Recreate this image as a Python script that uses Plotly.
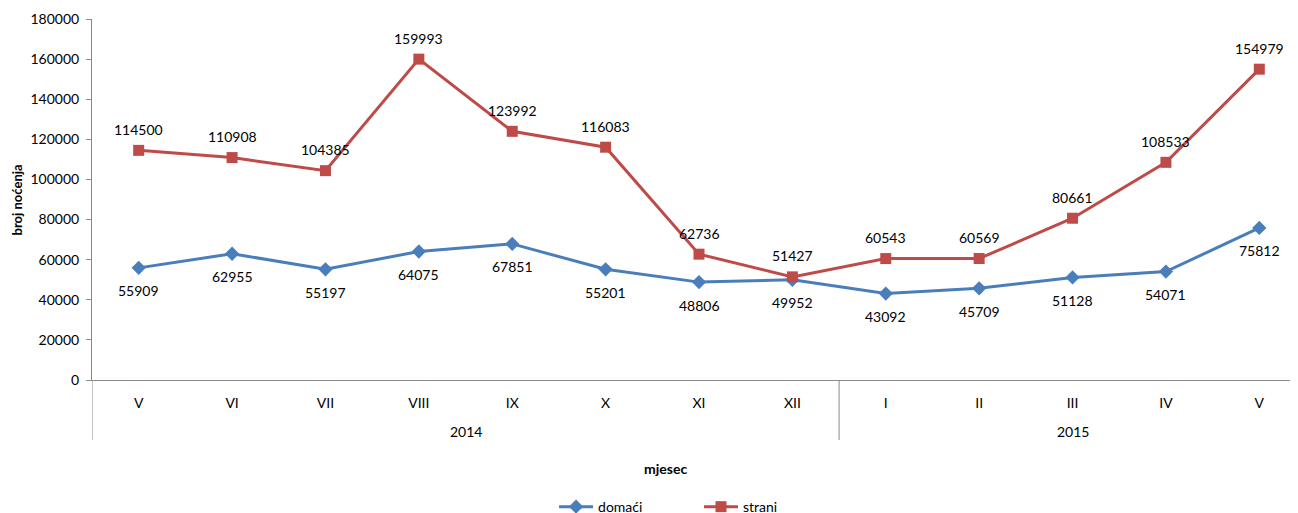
import plotly.graph_objects as go

months = ["V", "VI", "VII", "VIII", "IX", "X", "XI", "XII", "I", "II", "III", "IV", "V"]
years = ["2014", "2015"]
year_counts = [8, 5]
domaci = [55909, 62955, 55197, 64075, 67851, 55201, 48806, 49952, 43092, 45709, 51128, 54071, 75812]
strani = [114500, 110908, 104385, 159993, 123992, 116083, 62736, 51427, 60543, 60569, 80661, 108533, 154979]

xs = list(range(len(months)))
FONT = "Lato"
FS = 14
AXIS_COLOR = "#888888"
BLUE = "#4A7EBB"
RED = "#BE4B48"

fig = go.Figure()
fig.add_trace(go.Scatter(
    x=xs, y=domaci, name="domaći", mode="lines+markers",
    line=dict(color=BLUE, width=3),
    marker=dict(symbol="diamond", size=11, color=BLUE),
    cliponaxis=False, legend="legend",
))
fig.add_trace(go.Scatter(
    x=xs, y=strani, name="strani", mode="lines+markers",
    line=dict(color=RED, width=3),
    marker=dict(symbol="square", size=11, color=RED),
    cliponaxis=False, legend="legend2",
))

annotations = []
# data labels
for x, v in zip(xs, domaci):
    annotations.append(dict(x=x, y=v, xref="x", yref="y", text=str(v), showarrow=False,
                            yanchor="middle", yshift=-23,
                            font=dict(family=FONT, size=FS, color="#000")))
for x, v in zip(xs, strani):
    annotations.append(dict(x=x, y=v, xref="x", yref="y", text=str(v), showarrow=False,
                            yanchor="middle", yshift=21,
                            font=dict(family=FONT, size=FS, color="#000")))

start = 0
shapes = []
for yr, cnt in zip(years, year_counts):
    center = start + (cnt - 1) / 2
    annotations.append(dict(x=center, y=-0.144, xref="x", yref="paper", text=yr,
                            showarrow=False, yanchor="middle",
                            font=dict(family=FONT, size=FS, color="#000")))
    shapes.append(dict(type="line", x0=start - 0.5, x1=start - 0.5, xref="x", yref="paper",
                       y0=0, y1=-0.166, line=dict(color=AXIS_COLOR, width=1)))
    start += cnt

annotations.append(dict(x=0.4728, y=-0.244, xref="paper", yref="paper", text="<b>mjesec</b>",
                        showarrow=False, xanchor="center", yanchor="middle",
                        font=dict(family=FONT, size=FS, color="#000")))
annotations.append(dict(x=-0.0618, y=0.5, xref="paper", yref="paper", text="<b>broj noćenja</b>",
                        showarrow=False, xanchor="center", yanchor="middle", textangle=-90,
                        font=dict(family=FONT, size=13, color="#000")))

leg_common = dict(orientation="h", yanchor="middle", y=-0.352, xanchor="left",
                  font=dict(family=FONT, size=FS), itemwidth=34, bgcolor="rgba(0,0,0,0)")

fig.update_layout(
    width=1298, height=513,
    margin=dict(l=84, r=0, t=11, b=141, autoexpand=False),
    paper_bgcolor="white", plot_bgcolor="white",
    font=dict(family=FONT, size=FS, color="#000"),
    showlegend=True,
    legend=dict(x=0.3806, **leg_common),
    legend2=dict(x=0.5, **leg_common),
    xaxis=dict(
        tickmode="array", tickvals=xs, ticktext=months,
        range=[-0.5, 12.5], showgrid=False, zeroline=False, automargin=False,
        showline=True, linecolor=AXIS_COLOR, linewidth=1, ticks="",
        tickfont=dict(family=FONT, size=FS), ticklabelstandoff=10,
    ),
    yaxis=dict(
        range=[0, 180000], dtick=20000, tickformat="d", automargin=False,
        showgrid=False, zeroline=False, showline=True, linecolor=AXIS_COLOR, linewidth=1,
        ticks="outside", ticklen=5, tickcolor=AXIS_COLOR,
        tickfont=dict(family=FONT, size=FS), ticklabelstandoff=4,
    ),
    shapes=shapes,
    annotations=annotations,
)

fig.write_html("out.html")
